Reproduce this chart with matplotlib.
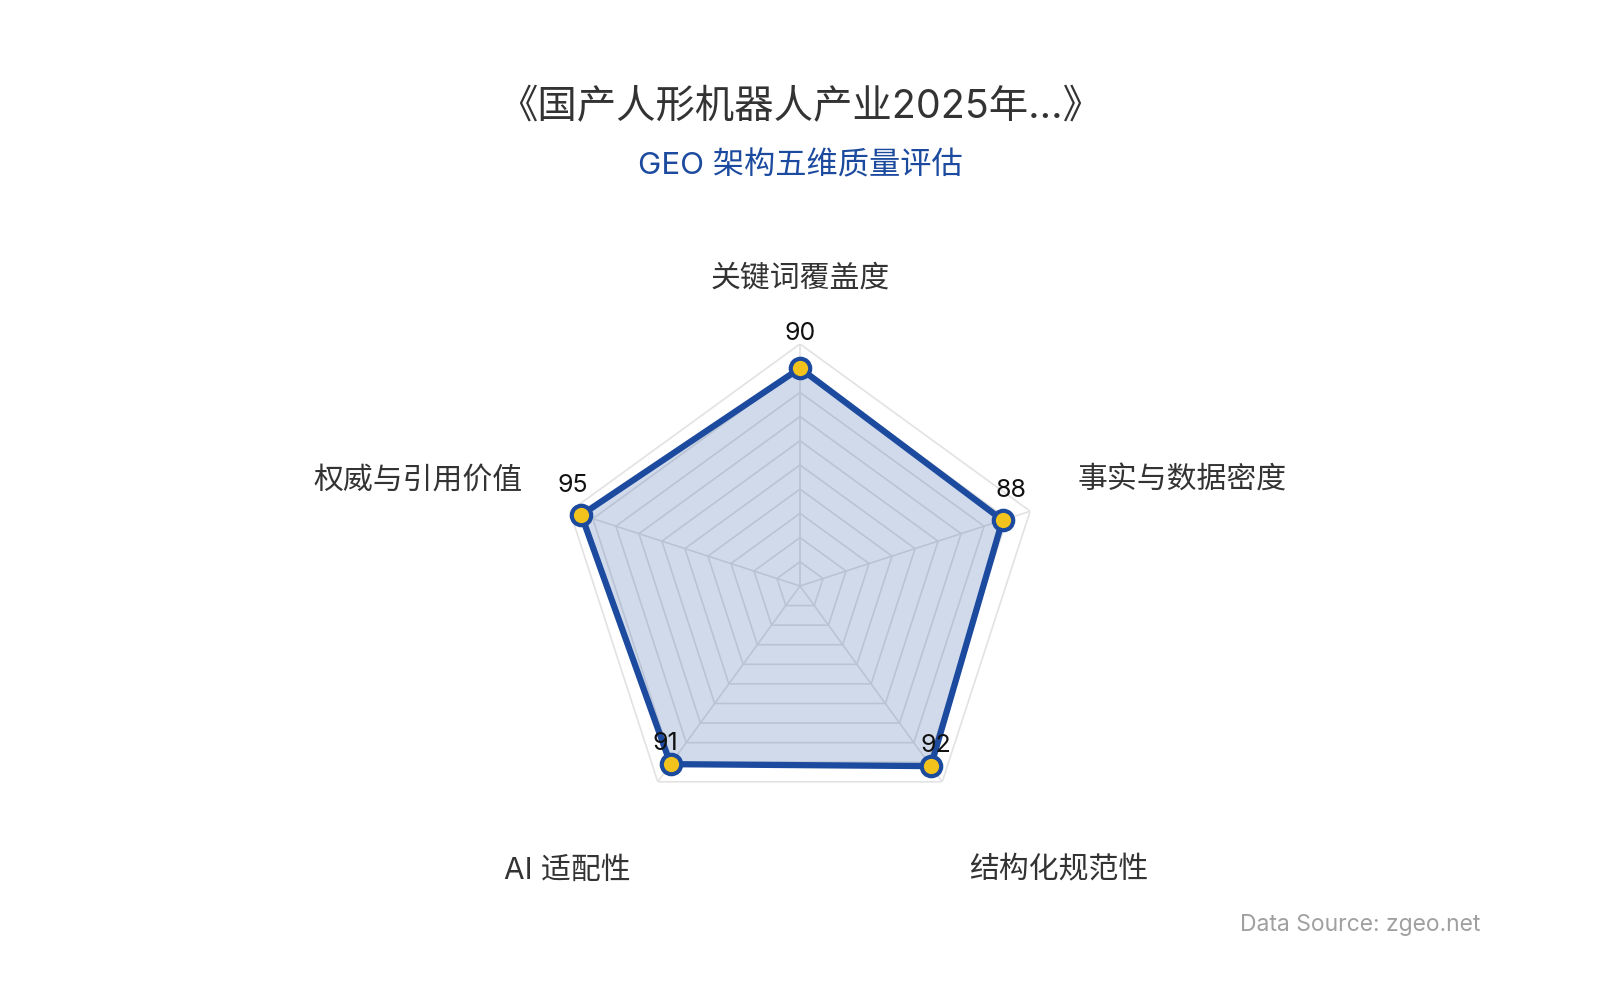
import numpy as np
import matplotlib.pyplot as plt

plt.rcParams['font.family'] = ['Inter', 'Noto Sans CJK SC', 'DejaVu Sans']

# 数据
indicators = ['关键词覆盖度', '事实与数据密度', '结构化规范性', 'AI 适配性', '权威与引用价值']
scores = [90, 88, 92, 91, 95]
max_score = 100
rings = [10, 20, 30, 40, 50, 60, 70, 80, 90, 100]

title = '《国产人形机器人产业2025年...》'
subtitle = 'GEO 架构五维质量评估'
source = 'Data Source: zgeo.net'

blue = '#1c4a9e'
yellow = '#f2c31c'
grid_color = '#e2e2e2'

n = len(indicators)
theta = np.linspace(0, 2 * np.pi, n, endpoint=False)
theta_closed = np.append(theta, theta[0])

fig = plt.figure(figsize=(16, 10), dpi=100)
ax = fig.add_axes([0.34875, 0.172, 0.3025, 0.484], projection='polar')
ax.set_theta_zero_location('N')
ax.set_theta_direction(-1)
ax.set_ylim(0, max_score)
ax.axis('off')

# 网格
for r in rings:
    ax.plot(theta_closed, [r] * (n + 1), color=grid_color, lw=1.2, zorder=1)
for t in theta:
    ax.plot([t, t], [0, max_score], color=grid_color, lw=1.2, zorder=1)

vals = scores + scores[:1]
ax.fill(theta_closed, vals, color=blue, alpha=0.2, lw=0, zorder=2)
ax.plot(theta_closed, vals, color=blue, lw=4.5, zorder=3, solid_joinstyle='miter')
ax.plot(theta, scores, 'o', ms=14, mfc=yellow, mec=blue, mew=3, zorder=4, ls='none')

# 数值标签
for t, v in zip(theta, scores):
    dx = 9 * np.sin(t)
    dy = 27 + 8 * np.cos(t)
    ax.annotate(str(v), xy=(t, v), xytext=(dx, dy), textcoords='offset pixels',
                ha='center', va='center', fontsize=18, color='#111111', zorder=5)

# 指标名称
name_offsets = [(0, 66), (47, 31), (27, -89), (-27, -89), (-47, 31)]
for t, name, (ox, oy) in zip(theta, indicators, name_offsets):
    ha = 'center' if ox == 0 else ('left' if ox > 0 else 'right')
    ax.annotate(name, xy=(t, max_score), xytext=(ox, oy), textcoords='offset pixels',
                ha=ha, va='center', fontsize=21.5, color='#333333', annotation_clip=False)

fig.text(0.5, 0.892, title, ha='center', va='center', fontsize=28.4, color='#333333')
fig.text(0.5, 0.834, subtitle, ha='center', va='center', fontsize=22.5, color=blue)
fig.text(0.925, 0.075, source, ha='right', va='center', fontsize=16.5, color='#a0a0a0')

fig.savefig('out.png', dpi=100, facecolor='white')
